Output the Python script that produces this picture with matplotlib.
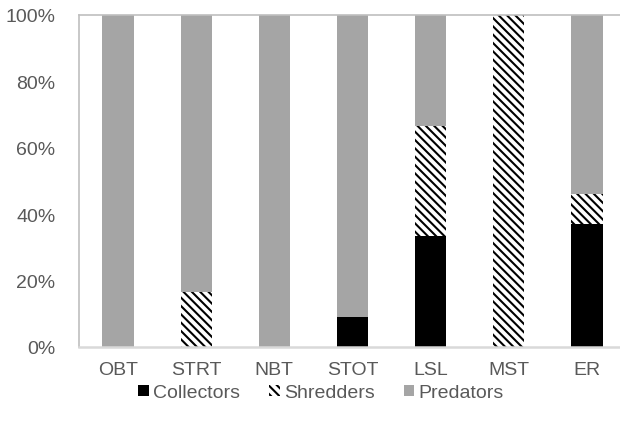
import matplotlib
matplotlib.use("Agg")
import matplotlib.pyplot as plt
from matplotlib.patches import Patch
from matplotlib.ticker import FuncFormatter

categories = ["OBT", "STRT", "NBT", "STOT", "LSL", "MST", "ER"]
collectors = [0, 0, 0, 9.0, 33.3, 0, 37.1]
shredders = [0, 16.7, 0, 0, 33.3, 100, 8.9]
predators = [100, 83.3, 100, 91.0, 33.4, 0, 54.0]
yticks = [0, 20, 40, 60, 80, 100]

plt.rcParams['font.family'] = ['Liberation Sans', 'DejaVu Sans']
plt.rcParams['hatch.linewidth'] = 1.5

fig = plt.figure(figsize=(6.2, 4.27), dpi=100)
ax = fig.add_axes([79/620, 1-348/427, 547/620, 332/427])

x = list(range(len(categories)))
w = 0.4
b1 = ax.bar(x, collectors, w, color='black', linewidth=0)
b2 = ax.bar(x, shredders, w, bottom=collectors, color='white', edgecolor='black',
            hatch='\\\\\\\\', linewidth=0)
bottom3 = [c + s for c, s in zip(collectors, shredders)]
b3 = ax.bar(x, predators, w, bottom=bottom3, color='#a5a5a5', linewidth=0)

ax.set_xlim(-0.5, len(categories) - 0.5)
ax.set_ylim(0, 100)
ax.set_yticks(yticks)
ax.yaxis.set_major_formatter(FuncFormatter(lambda v, p: f"{int(v)}%"))
ax.set_xticks(x)
ax.set_xticklabels(categories)
ax.tick_params(axis='both', length=0, labelsize=14, colors='#595959')
ax.tick_params(axis='y', pad=17)
ax.tick_params(axis='x', pad=10)

for s in ['left', 'top']:
    ax.spines[s].set_color('#bfbfbf')
    ax.spines[s].set_linewidth(1.2)
ax.spines['right'].set_visible(False)
ax.spines['bottom'].set_color('#d9d9d9')
ax.spines['bottom'].set_linewidth(1.8)

handles = [Patch(facecolor='black', linewidth=0),
           Patch(facecolor='white', edgecolor='black', hatch='\\\\\\\\', linewidth=0),
           Patch(facecolor='#a5a5a5', linewidth=0)]
leg = fig.legend(handles, ["Collectors", "Shredders", "Predators"], loc='center',
                 bbox_to_anchor=(321/620, 1-394/427), ncol=3, frameon=False,
                 fontsize=14, handlelength=0.55, handleheight=0.55, handletextpad=0.2,
                 columnspacing=1.5)
for t in leg.get_texts():
    t.set_color('#595959')

fig.savefig("out.png", dpi=100)
